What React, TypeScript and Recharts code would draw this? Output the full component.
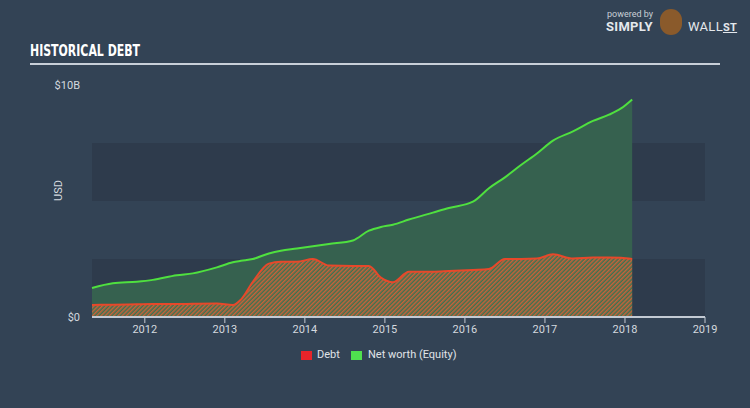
import { AreaChart, Area, XAxis, YAxis, ReferenceArea } from "recharts";

// years (fractional) and values in billions USD
const dates = [
  2011.34, 2011.6, 2011.9, 2012.1, 2012.4, 2012.6, 2012.9, 2013.1, 2013.2, 2013.35, 2013.55,
  2013.7, 2013.9, 2014.1, 2014.3, 2014.6, 2014.8, 2014.95, 2015.1, 2015.3, 2015.6, 2015.8,
  2016.1, 2016.3, 2016.5, 2016.7, 2016.9, 2017.1, 2017.35, 2017.6, 2017.8, 2017.95, 2018.09,
];
const equity = [
  1.25, 1.45, 1.52, 1.6, 1.8, 1.88, 2.14, 2.36, 2.42, 2.5, 2.74, 2.86, 2.95, 3.05, 3.15, 3.3,
  3.72, 3.88, 3.98, 4.2, 4.5, 4.7, 4.97, 5.55, 6.02, 6.55, 7.05, 7.6, 8.0, 8.45, 8.72, 8.99, 9.38,
];
const debt = [
  0.52, 0.53, 0.55, 0.56, 0.56, 0.57, 0.58, 0.52, 0.75, 1.52, 2.3, 2.38, 2.38, 2.5, 2.22, 2.2,
  2.2, 1.7, 1.5, 1.95, 1.95, 1.98, 2.03, 2.07, 2.5, 2.5, 2.52, 2.7, 2.52, 2.56, 2.56, 2.55, 2.5,
];
const xTicks = [2012, 2013, 2014, 2015, 2016, 2017, 2018, 2019];
const yTicks = [0, 10];

const data = dates.map((t, i) => ({ t, equity: equity[i], debt: debt[i] }));

const BG = "#334355";
const BAND = "#2e3b4c";
const GREEN = "#4fe03f";
const RED = "#e8482a";
const FONT = "Roboto, 'Noto Sans', sans-serif";

export default function App() {
  return (
    <div style={{ position: "fixed", left: 0, top: 0, width: 750, height: 408, background: BG, fontFamily: FONT }}>
      <div
        style={{
          position: "absolute",
          left: 30,
          top: 41,
          color: "#fff",
          fontFamily: "'DejaVu Sans Condensed', 'DejaVu Sans', sans-serif",
          fontWeight: 700,
          fontSize: 16,
          transform: "scaleX(0.76)",
          transformOrigin: "left top",
          whiteSpace: "nowrap",
        }}
      >
        HISTORICAL DEBT
      </div>
      <div style={{ position: "absolute", left: 30, top: 63, width: 690, height: 2, background: "#c8cfd8" }} />
      <div style={{ position: "absolute", left: 607, top: 9, color: "#c9cfd6", fontSize: 9 }}>powered by</div>
      <div style={{ position: "absolute", left: 606, top: 19, color: "#e4e8ec", fontSize: 13, fontWeight: 700, letterSpacing: 0.3 }}>SIMPLY</div>
      <div style={{ position: "absolute", left: 660, top: 9, width: 22, height: 26, borderRadius: 11, background: "#8a5a2b" }} />
      <div style={{ position: "absolute", left: 688, top: 19, color: "#e4e8ec", fontSize: 13, letterSpacing: 0.3 }}>
        WALL<span style={{ fontWeight: 700, textDecoration: "underline", fontSize: 11 }}>ST</span>
      </div>
      <AreaChart
        width={750}
        height={408}
        data={data}
        margin={{ top: 85, right: 45, bottom: 61, left: 32 }}
      >
        <defs>
          <pattern id="hatch" width="3" height="3" patternUnits="userSpaceOnUse" patternTransform="rotate(45)">
            <rect width="3" height="3" fill="#3d7250" />
            <line x1="0.75" y1="0" x2="0.75" y2="3" stroke="#c8623a" strokeWidth="1.5" />
          </pattern>
        </defs>
        <ReferenceArea x1={2011.34} x2={2019} y1={0} y2={2.5} fill={BAND} fillOpacity={1} />
        <ReferenceArea x1={2011.34} x2={2019} y1={5} y2={7.5} fill={BAND} fillOpacity={1} />
        <XAxis
          dataKey="t"
          type="number"
          domain={[2011.34, 2019]}
          ticks={xTicks}
          height={30}
          axisLine={{ stroke: "#c3cad3", strokeWidth: 2 }}
          tickLine={{ stroke: "#c3cad3" }}
          tickSize={6}
          tick={{ fill: "#d4d9df", fontSize: 11, fontFamily: FONT }}
        />
        <YAxis
          type="number"
          domain={[0, 10]}
          ticks={yTicks}
          width={60}
          axisLine={false}
          tickLine={false}
          tickSize={0}
          tickMargin={12}
          tick={{ fill: "#d4d9df", fontSize: 11, fontFamily: FONT }}
          tickFormatter={(v: number) => `$${v}${v ? "B" : ""}`}
          label={{ value: "USD", angle: -90, position: "insideLeft", offset: 26, fill: "#d4d9df", fontSize: 11, fontFamily: FONT }}
        />
        <Area
          type="monotone"
          dataKey="equity"
          stroke={GREEN}
          strokeWidth={2}
          fill="#36614f"
          fillOpacity={1}
          isAnimationActive={false}
          dot={false}
        />
        <Area
          type="monotone"
          dataKey="debt"
          stroke={RED}
          strokeWidth={2}
          fill="url(#hatch)"
          fillOpacity={1}
          isAnimationActive={false}
          dot={false}
        />
      </AreaChart>
      <div style={{ position: "absolute", left: 301, top: 351, width: 11, height: 9, background: "#e8242a" }} />
      <div style={{ position: "absolute", left: 317, top: 348, color: "#e0e4e8", fontSize: 11 }}>Debt</div>
      <div style={{ position: "absolute", left: 351, top: 351, width: 11, height: 9, background: "#4fe04f" }} />
      <div style={{ position: "absolute", left: 368, top: 348, color: "#e0e4e8", fontSize: 11 }}>Net worth (Equity)</div>
    </div>
  );
}
